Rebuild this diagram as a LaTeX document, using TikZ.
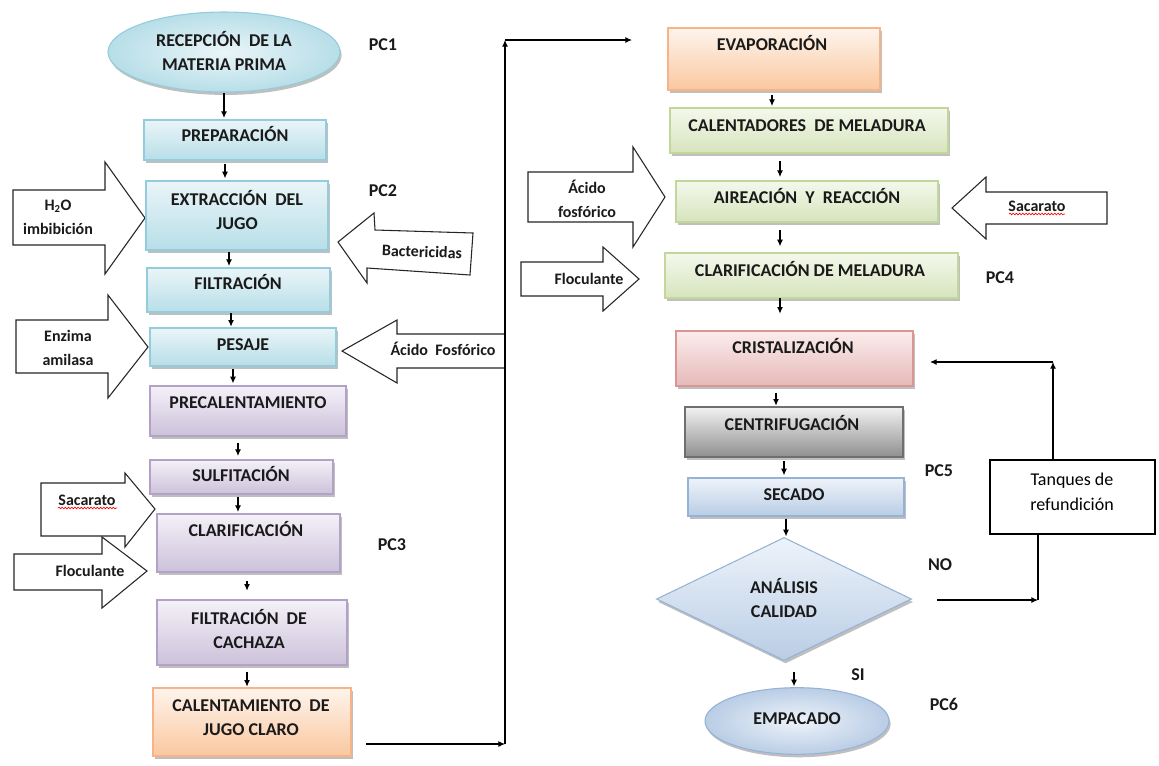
\documentclass[tikz,border=0pt]{standalone}
\usepackage{fontspec}
\setmainfont{Carlito}
\usetikzlibrary{shapes.geometric,shadows,arrows.meta,decorations.pathmorphing}
\definecolor{txt}{HTML}{1A1A1A}
\definecolor{tcyan}{HTML}{EAF5F8}\definecolor{bcyan}{HTML}{B7DEE8}\definecolor{ecyan}{HTML}{93CDDD}
\definecolor{tpur}{HTML}{F4F1F8}\definecolor{bpur}{HTML}{CCC1DA}\definecolor{epur}{HTML}{B3A2C7}
\definecolor{tora}{HTML}{FEF4EC}\definecolor{bora}{HTML}{FAC8A0}\definecolor{eora}{HTML}{F6B488}
\definecolor{tgre}{HTML}{F4F8EC}\definecolor{bgre}{HTML}{D7E4BD}\definecolor{egre}{HTML}{C3D69B}
\definecolor{tred}{HTML}{FBEDED}\definecolor{bred}{HTML}{E6B9B8}\definecolor{ered}{HTML}{D99694}
\definecolor{tgry}{HTML}{F2F2F2}\definecolor{bgry}{HTML}{8F8F8F}\definecolor{egry}{HTML}{6F6F6F}
\definecolor{tblu}{HTML}{EEF3FA}\definecolor{bblu}{HTML}{B9CDE5}\definecolor{eblu}{HTML}{95B3D7}
\newcommand\mkbox[6]{\node[proc,#2,minimum width={(#5-#3)*0.75pt},minimum height={(#6-#4)*0.75pt}] (#1) at ({(#3+#5)/2},{(#4+#6)/2}) {};}
\begin{document}
\begin{tikzpicture}[x=0.75pt,y=-0.75pt,
  flow/.style={line width=0.8pt,-{Latex[length=5pt,width=4.5pt]}},
  plain/.style={line width=0.8pt},
  proc/.style={rectangle,line width=0.8pt,inner sep=0pt,outer sep=0pt,
    drop shadow={shadow xshift=1.2pt,shadow yshift=-2.2pt,fill=black!55,opacity=0.45}},
  cyanbox/.style={draw=ecyan,top color=tcyan,bottom color=bcyan},
  purbox/.style={draw=epur,top color=tpur,bottom color=bpur},
  orabox/.style={draw=eora,top color=tora,bottom color=bora},
  grebox/.style={draw=egre,top color=tgre,bottom color=bgre},
  redbox/.style={draw=ered,top color=tred,bottom color=bred},
  grybox/.style={draw=egry,top color=tgry,bottom color=bgry},
  blubox/.style={draw=eblu,top color=tblu,bottom color=bblu},
  ptxt/.style={font=\bfseries\fontsize{13.5}{18}\selectfont,text=txt,inner sep=0pt,text height=8.7pt,text depth=0pt},
  ptxt2/.style={font=\bfseries\fontsize{13.5}{18}\selectfont,text=txt,inner sep=0pt,align=center},
  small/.style={font=\bfseries\fontsize{12}{18}\selectfont,text=txt,inner sep=0pt,text height=7.8pt,text depth=0pt},
  small2/.style={font=\bfseries\fontsize{12}{18}\selectfont,text=txt,inner sep=0pt,align=center},
  barrow/.style={draw=black!85,fill=white,line width=0.8pt,line join=miter},
  wavy/.style={red,line width=0.5pt,decorate,decoration={snake,amplitude=0.6pt,segment length=2.4pt}}
]
\useasboundingbox[fill=white] (0,0) rectangle (1159,765);

% ---------- block arrows (inputs) ----------
\draw[barrow] (13,190) -- (105,190) -- (105,162) -- (145,218) -- (105,274) -- (105,245) -- (13,245) -- cycle;
\node[small2] (h2o) at (58,217) {H\textsubscript{2}O\\imbibición};
\draw[barrow] (338,242) -- (374,213) -- (375,230) -- (473,233) -- (470,275) -- (367,268) -- (367,283) -- cycle;
\node[small,rotate=-2] (bact) at (422,252) {Bactericidas};
\draw[barrow] (16,320) -- (108,320) -- (108,295) -- (148,347) -- (108,398) -- (108,373) -- (16,373) -- cycle;
\node[small2] (enz) at (68,348) {Enzima\\amilasa};
\draw[barrow] (342,351) -- (397,320) -- (397,334) -- (505,334) -- (505,368) -- (397,368) -- (397,383) -- cycle;
\node[small] (acf1) at (443,350) {Ácido\ \ Fosfórico};
\draw[barrow] (41,483) -- (125,483) -- (125,473) -- (155,509) -- (125,547) -- (125,536) -- (41,536) -- cycle;
\node[small] (sac1) at (87,500) {Sacarato};
\draw[wavy] (58,508) -- (117,508);
\draw[barrow] (14,554) -- (102,554) -- (102,537) -- (147,571) -- (102,608) -- (102,590) -- (14,590) -- cycle;
\node[small] (flo1) at (90,571) {Floculante};

\draw[barrow] (528,172) -- (633,172) -- (633,147) -- (665,197) -- (633,247) -- (633,222) -- (528,222) -- cycle;
\node[small2] (acf2) at (587,199) {Ácido\\fosfórico};
\draw[barrow] (952,208) -- (986,177) -- (986,192) -- (1107,192) -- (1107,224) -- (986,224) -- (986,239) -- cycle;
\node[small] (sac2) at (1037,206) {Sacarato};
\draw[wavy] (1009,214) -- (1065,214);
\draw[barrow] (521,262) -- (603,262) -- (603,247) -- (639,279) -- (603,311) -- (603,296) -- (521,296) -- cycle;
\node[small] (flo2) at (589,279) {Floculante};

% ---------- left column ----------
\node[proc,ellipse,draw=ecyan,inner color=tcyan,outer color=bcyan,minimum width=174pt,minimum height=60pt] (recep) at (224,52) {};
\node[ptxt2] (recep-t) at (224,51) {RECEPCIÓN\ \ DE LA\\MATERIA PRIMA};
\mkbox{prep}{cyanbox}{144}{120}{326}{160}
\node[ptxt] (prep-t) at (235,136) {PREPARACIÓN};
\mkbox{extr}{cyanbox}{146}{181}{328}{250}
\node[ptxt2] (extr-t) at (237,210) {EXTRACCIÓN\ \ DEL\\JUGO};
\mkbox{filt}{cyanbox}{147}{268}{330}{312}
\node[ptxt] (filt-t) at (238,284) {FILTRACIÓN};
\mkbox{pesa}{cyanbox}{150}{328}{336}{366}
\node[ptxt] (pesa-t) at (243,345) {PESAJE};
\mkbox{prec}{purbox}{150}{386}{346}{436}
\node[ptxt] (prec-t) at (248,403) {PRECALENTAMIENTO};
\mkbox{sulf}{purbox}{150}{460}{333}{494}
\node[ptxt] (sulf-t) at (241,476) {SULFITACIÓN};
\mkbox{clar}{purbox}{157}{514}{340}{572}
\node[ptxt] (clar-t) at (246,531) {CLARIFICACIÓN};
\mkbox{cach}{purbox}{157}{600}{347}{665}
\node[ptxt2] (cach-t) at (249,629) {FILTRACIÓN\ \ DE\\CACHAZA};
\mkbox{calj}{orabox}{153}{688}{351}{756}
\node[ptxt2] (calj-t) at (251,718) {CALENTAMIENTO\ \ DE\\JUGO CLARO};

% ---------- right column ----------
\mkbox{evap}{orabox}{668}{28}{880}{90}
\node[ptxt] (evap-t) at (772,45) {EVAPORACIÓN};
\mkbox{calm}{grebox}{670}{108}{948}{153}
\node[ptxt] (calm-t) at (807,126) {CALENTADORES\ \ DE MELADURA};
\mkbox{aire}{grebox}{676}{181}{938}{222}
\node[ptxt] (aire-t) at (807,198) {AIREACIÓN\ \ Y\ \ REACCIÓN};
\mkbox{clam}{grebox}{665}{253}{958}{298}
\node[ptxt] (clam-t) at (810,271) {CLARIFICACIÓN DE MELADURA};
\mkbox{cris}{redbox}{676}{331}{913}{386}
\node[ptxt] (cris-t) at (793,348) {CRISTALIZACIÓN};
\mkbox{cent}{grybox}{685}{407}{903}{457}
\node[ptxt] (cent-t) at (792,425) {CENTRIFUGACIÓN};
\mkbox{seca}{blubox}{688}{478}{904}{516}
\node[ptxt] (seca-t) at (794,495) {SECADO};
\node[proc,diamond,draw=eblu,top color=tblu,bottom color=bblu,minimum width=191pt,minimum height=92pt] (anal) at (784,599) {};
\node[ptxt2] (anal-t) at (784,598) {ANÁLISIS\\CALIDAD};
\node[proc,ellipse,draw=eblu,inner color=tblu,outer color=bblu,minimum width=138pt,minimum height=50pt] (empa) at (797,721) {};
\node[ptxt] (empa-t) at (797,719) {EMPACADO};
\node[draw=black,line width=0.8pt,fill=white,inner sep=0pt,minimum width={165*0.75pt},minimum height={74*0.75pt}] (tanq) at (1072.5,497) {};
\node[font=\fontsize{13.5}{19}\selectfont,align=center,inner sep=0pt] (tanq-t) at (1072,492) {Tanques de\\refundición};

% ---------- PC / decision labels ----------
\node[ptxt] (pc1) at (383,45) {PC1};
\node[ptxt] (pc2) at (383,191) {PC2};
\node[ptxt] (pc3) at (392,545) {PC3};
\node[ptxt] (pc4) at (1000,278) {PC4};
\node[ptxt] (pc5) at (939,471) {PC5};
\node[ptxt] (pc6) at (944,705) {PC6};
\node[ptxt] (no) at (940,565) {NO};
\node[ptxt] (si) at (858,675) {SI};

% ---------- flow arrows ----------
\draw[flow,shorten <=1pt,shorten >=1.5pt] (recep.south -| 224,0) -- (prep.north -| 224,0);
\draw[flow,shorten <=3pt,shorten >=2pt] (prep.south -| 225,0) -- (extr.north -| 225,0);
\draw[flow,shorten <=1.5pt,shorten >=1.5pt] (extr.south -| 229,0) -- (filt.north -| 229,0);
\draw[flow,shorten <=1pt,shorten >=1pt] (filt.south -| 231,0) -- (pesa.north -| 231,0);
\draw[flow,shorten <=2pt,shorten >=2pt] (pesa.south -| 233,0) -- (prec.north -| 233,0);
\draw[flow,shorten <=5pt,shorten >=3pt] (prec.south -| 238,0) -- (sulf.north -| 238,0);
\draw[flow,shorten <=2pt,shorten >=1.5pt] (sulf.south -| 238,0) -- (clar.north -| 238,0);
\draw[flow,shorten <=7pt,shorten >=7pt] (clar.south -| 247,0) -- (cach.north -| 247,0);
\draw[flow,shorten <=5pt,shorten >=1pt] (cach.south -| 247,0) -- (calj.north -| 247,0);

\draw[flow,shorten <=4pt,shorten >=1.5pt] (evap.south -| 772,0) -- (calm.north -| 772,0);
\draw[flow,shorten <=6pt,shorten >=3pt] (calm.south -| 780,0) -- (aire.north -| 780,0);
\draw[flow,shorten <=6pt,shorten >=5pt] (aire.south -| 780,0) -- (clam.north -| 780,0);
\draw[flow,shorten <=0pt,shorten >=13pt] (clam.south -| 780,0) -- (cris.north -| 780,0);
\draw[flow,shorten <=5pt,shorten >=1pt] (cris.south -| 776,0) -- (cent.north -| 776,0);
\draw[flow,shorten <=3pt,shorten >=2pt] (cent.south -| 784,0) -- (seca.north -| 784,0);
\draw[flow,shorten <=2pt,shorten >=1pt] (seca.south -| 786,0) -- (anal.north -| 786,0);
\draw[flow,shorten <=9pt,shorten >=1pt] (anal.south -| 794,0) -- (empa.north -| 794,0);

% long connector to evaporation
\coordinate (s1) at (366,744);
\coordinate (c1) at (505,744);
\coordinate (c2) at (505,40);
\coordinate (e1) at (632,40);
\draw[flow] (s1) -- (c1);
\draw[flow] (c1) -- (c2);
\draw[flow] (c2) -- (e1);

% quality loop
\coordinate (n1) at (937,600);
\coordinate (n2) at (1038,600);
\coordinate (r1) at (1053,362);
\coordinate (r2) at (930,362);
\draw[flow] (n1) -- (n2);
\draw[plain] (tanq.south -| n2) -- (n2);
\draw[flow] (tanq.north -| r1) -- (r1);
\draw[flow] (r1) -- (r2);
\end{tikzpicture}
\end{document}
